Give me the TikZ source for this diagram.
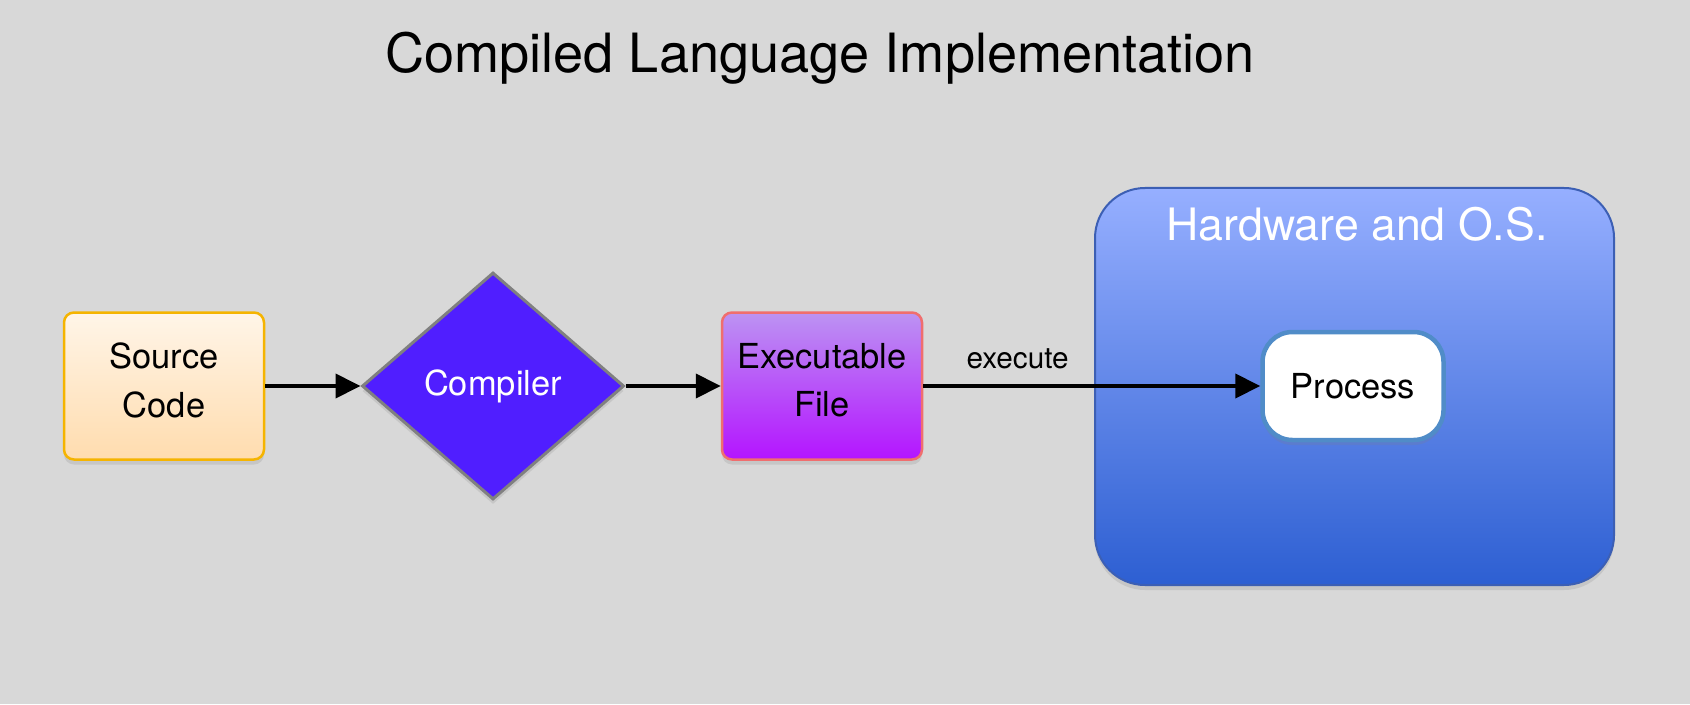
\documentclass[tikz,border=0pt]{standalone}
\usepackage{fontspec}
\setmainfont{TeX Gyre Heros}
\usetikzlibrary{positioning,shapes.geometric,arrows.meta,shadows}

\definecolor{bggray}{HTML}{D8D8D8}
\definecolor{srctop}{HTML}{FFF5E8}
\definecolor{srcbot}{HTML}{FFDCAE}
\definecolor{srcline}{HTML}{F5B400}
\definecolor{compfill}{HTML}{501EFF}
\definecolor{exetop}{HTML}{BC93F2}
\definecolor{exebot}{HTML}{B414FF}
\definecolor{exeline}{HTML}{F06E6E}
\definecolor{hwtop}{HTML}{96AFFF}
\definecolor{hwbot}{HTML}{2D5FD2}
\definecolor{hwline}{HTML}{3C5FB4}
\definecolor{procline}{HTML}{508CC8}

\begin{document}
\begin{tikzpicture}[%
>={Triangle[length=0.25cm,width=0.24cm]},
node distance=3.29cm,
on grid,
auto,
font=\fontsize{9.8}{13.9}\selectfont,
shade/.style={drop shadow={shadow xshift=0cm,shadow yshift=-0.05cm,opacity=0.2}},
box/.style={draw, line width=0.025cm, rounded corners=0.1cm, align=center,
  text depth=0.12cm, minimum width=2cm, minimum height=1.47cm, shade},
flow/.style={->, line width=0.04cm}
]

\fill[bggray] (0,0) rectangle (16.9,7.04);
\useasboundingbox (0,0) rectangle (16.9,7.04);

\node[anchor=base, font=\fontsize{15.4}{18}\selectfont] (title) at (8.2,6.31)
  {Compiled Language Implementation};

% hardware container
\node[draw=hwline, line width=0.02cm, rounded corners=0.5cm, top color=hwtop,
  bottom color=hwbot, minimum width=5.19cm, minimum height=3.97cm, shade]
  (hw) at (13.545,3.175) {};
\node[anchor=base, text=white, font=\fontsize{12.7}{15}\selectfont] (hwtext)
  at (13.57,4.64) {Hardware and O.S.};

\node[box, draw=srcline, top color=srctop, bottom color=srcbot] (src)
  at (1.64,3.18) {Source\\Code};
\node[diamond, draw=gray, line width=0.03cm, fill=compfill, text=white,
  inner sep=0pt, minimum width=2.62cm, minimum height=2.27cm, shade] (comp)
  [right of=src] {Compiler};
\node[box, draw=exeline, top color=exetop, bottom color=exebot] (exe)
  [right of=comp] {Executable\\File};
\node[draw=procline, line width=0.045cm, fill=white, rounded corners=0.3cm,
  minimum width=1.81cm, minimum height=1.08cm, shade] (proc)
  [right=5.31cm of exe] {Process};

\path[flow] (src) edge (comp);
\path[flow] (comp) edge (exe);
\path[flow] (exe) edge node[pos=0.28, inner sep=0.15cm,
  font=\fontsize{8.45}{10}\selectfont] {execute} (proc);

\end{tikzpicture}
\end{document}
